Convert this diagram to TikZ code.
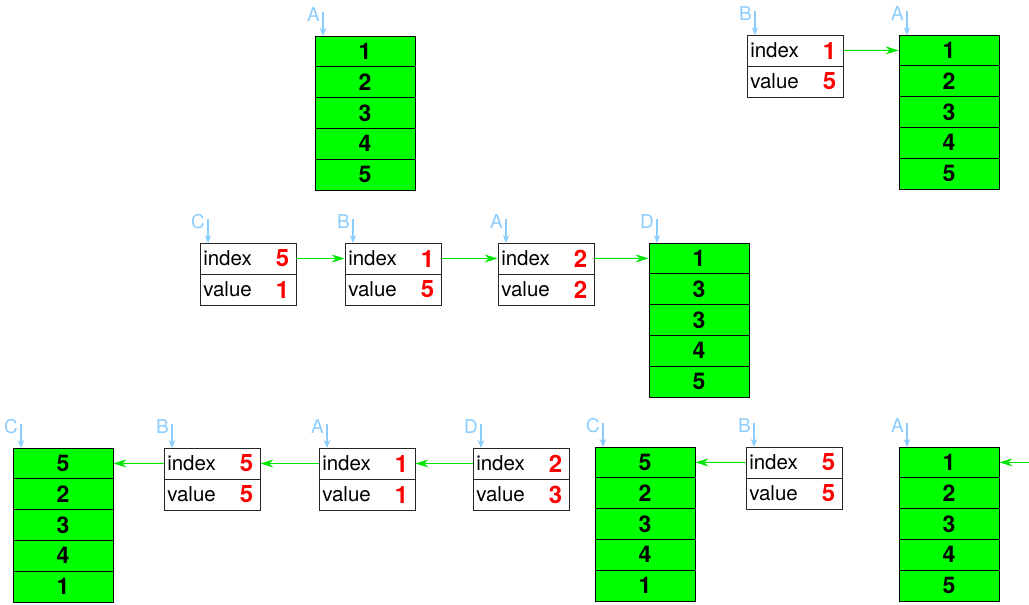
\documentclass[tikz,border=0pt]{standalone}
\usepackage{fontspec}
\setmainfont{TeX Gyre Heros}
\usetikzlibrary{arrows.meta,calc}
\definecolor{cellgreen}{RGB}{0,255,0}
\definecolor{ptrgreen}{RGB}{0,230,0}
\definecolor{lblblue}{RGB}{140,205,255}
\definecolor{numred}{RGB}{255,0,0}
\tikzset{
  cell/.style={draw=black, line width=0.9pt, fill=cellgreen, minimum width=100pt, minimum height=30.8pt, inner sep=0pt, font=\fontsize{23}{23}\selectfont\bfseries},
  srow/.style={draw=black!85, line width=0.9pt, fill=white, minimum width=96pt, minimum height=31pt, inner sep=0pt},
  fieldtxt/.style={font=\fontsize{20.5}{20.5}\selectfont, anchor=west, inner sep=0pt},
  fieldnum/.style={font=\fontsize{24}{24}\selectfont\bfseries, text=numred, anchor=center, inner sep=0pt},
  lbl/.style={font=\fontsize{19}{19}\selectfont, text=lblblue, anchor=base east, inner sep=0pt},
  lblarr/.style={draw=lblblue, line width=1.1pt, -{Stealth[length=8pt,width=6.5pt]}},
  ptr/.style={draw=ptrgreen, line width=1pt, -{Stealth[length=13pt,width=8pt]}},
}
% array: #1 name, #2 x, #3 y, #4..#8 values
\newcommand\mkarray[8]{%
  \node[cell] (#1-1) at (#2+50, #3+15.4) {#4};
  \node[cell] (#1-2) at (#2+50, #3+46.2) {#5};
  \node[cell] (#1-3) at (#2+50, #3+77.0) {#6};
  \node[cell] (#1-4) at (#2+50, #3+107.8) {#7};
  \node[cell] (#1-5) at (#2+50, #3+138.6) {#8};
}
% struct: #1 name, #2 x, #3 y, #4 index, #5 value
\newcommand\mkstruct[5]{%
  \node[srow] (#1-i) at (#2+48, #3+15.5) {};
  \node[srow] (#1-v) at (#2+48, #3+46.5) {};
  \node[fieldtxt] (#1-it) at ($(#1-i.west)+(3.5,0)$) {index};
  \node[fieldtxt] (#1-vt) at ($(#1-v.west)+(3.5,0)$) {value};
  \node[fieldnum] (#1-in) at ($(#1-i.east)+(-14,0)$) {#4};
  \node[fieldnum] (#1-vn) at ($(#1-v.east)+(-14,0)$) {#5};
}
% label: #1 name, #2 x, #3 y, #4 text
\newcommand\mklabel[4]{%
  \coordinate (#1-top) at (#2+8, #3-24);
  \coordinate (#1-end) at (#2+8, #3);
  \node[lbl] (#1-txt) at (#2+5, #3-15) {#4};
  \draw[lblarr] (#1-top) -- (#1-end);
}
\begin{document}
\begin{tikzpicture}[x=1pt,y=-1pt]
\useasboundingbox (0,0) rectangle (1029,605);
% panel 1
\mkarray{pA}{315}{36}{1}{2}{3}{4}{5}
\mklabel{lpA}{315}{36}{A}
% panel 2
\mkstruct{qB}{747}{35}{1}{5}
\mklabel{lqB}{747}{35}{B}
\mkarray{qA}{899}{35}{1}{2}{3}{4}{5}
\mklabel{lqA}{899}{35}{A}
\draw[ptr] (qB-i.east) -- (qA-1.west);
% panel 3
\mkstruct{rC}{200}{243}{5}{1}
\mklabel{lrC}{200}{243}{C}
\mkstruct{rB}{345}{243}{1}{5}
\mklabel{lrB}{345}{243}{B}
\mkstruct{rA}{498}{243}{2}{2}
\mklabel{lrA}{498}{243}{A}
\mkarray{rD}{649}{243}{1}{3}{3}{4}{5}
\mklabel{lrD}{649}{243}{D}
\draw[ptr] (rC-i.east) -- (rB-i.west);
\draw[ptr] (rB-i.east) -- (rA-i.west);
\draw[ptr] (rA-i.east) -- (rD-1.west);
% panel 4
\mkarray{sC}{13}{448}{5}{2}{3}{4}{1}
\mklabel{lsC}{13}{448}{C}
\mkstruct{sB}{164}{448}{5}{5}
\mklabel{lsB}{164}{448}{B}
\mkstruct{sA}{319}{448}{1}{1}
\mklabel{lsA}{319}{448}{A}
\mkstruct{sD}{473}{448}{2}{3}
\mklabel{lsD}{473}{448}{D}
\draw[ptr] (sB-i.west) -- (sC-1.east);
\draw[ptr] (sA-i.west) -- (sB-i.east);
\draw[ptr] (sD-i.west) -- (sA-i.east);
% panel 5
\mkarray{tC}{595}{447}{5}{2}{3}{4}{1}
\mklabel{ltC}{595}{447}{C}
\mkstruct{tB}{746}{447}{5}{5}
\mklabel{ltB}{746}{447}{B}
\mkarray{tA}{899}{447}{1}{2}{3}{4}{5}
\mklabel{ltA}{899}{447}{A}
\draw[ptr] (tB-i.west) -- (tC-1.east);
\coordinate (redge) at (1029, 462.4);
\draw[ptr] (redge) -- (tA-1.east);
\end{tikzpicture}
\end{document}
